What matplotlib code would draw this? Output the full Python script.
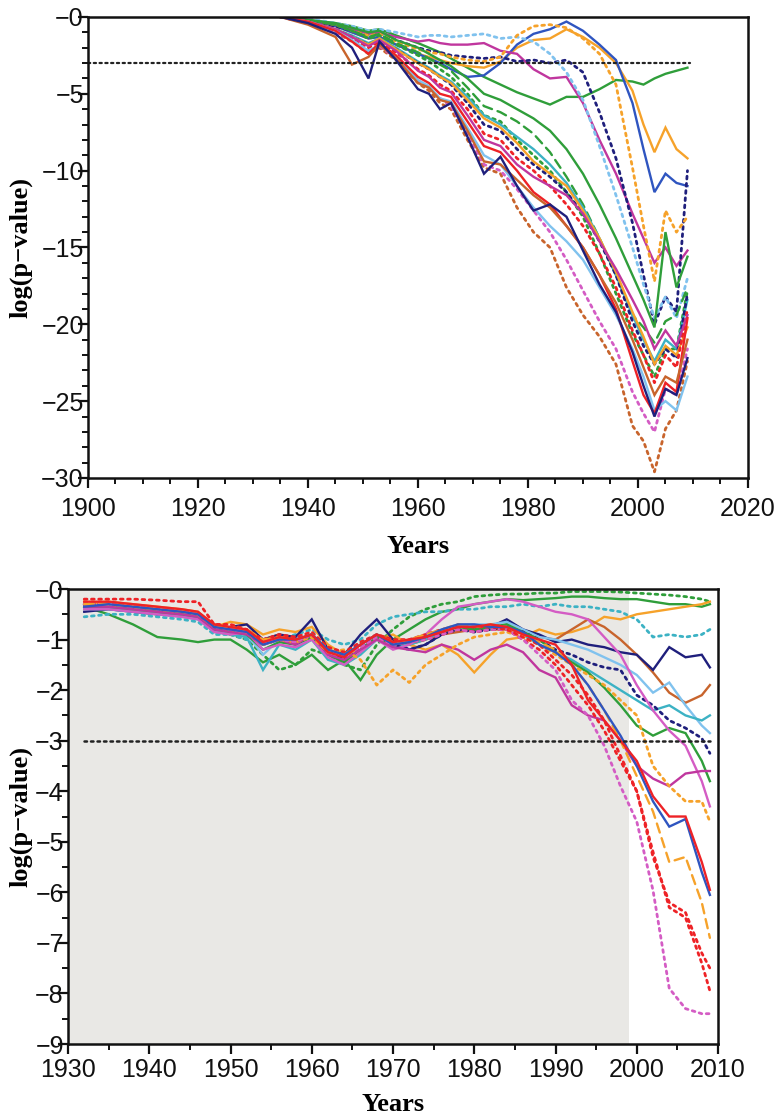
import matplotlib
matplotlib.use("Agg")
import matplotlib.pyplot as plt
from matplotlib.ticker import MultipleLocator, FixedLocator, FixedFormatter
from matplotlib.font_manager import FontProperties

# ---------------- data: top panel ----------------
years_top = [1935, 1940, 1945, 1948, 1951, 1953, 1956, 1960, 1962, 1964, 1966, 1969, 1972,
             1975, 1978, 1981, 1984, 1987, 1990, 1993, 1996, 1999, 2001, 2003, 2005, 2007, 2009]

t_navy = [0, -0.4, -1.1, -2.0, -4.0, -1.6, -2.8, -4.7, -5.0, -6.0, -5.6, -7.8, -10.2, -9.1, -11.0, -12.6, -12.2, -13.0, -15.2, -17.4, -19.2, -21.8, -24.0, -26.0, -24.2, -24.6, -22.2]
t_sienna = [0, -0.5, -1.3, -3.1, -2.6, -1.8, -2.7, -4.3, -4.6, -5.4, -5.6, -7.4, -9.4, -9.6, -10.6, -11.6, -12.4, -13.6, -15.0, -16.8, -18.6, -21.0, -22.8, -24.6, -23.4, -23.8, -21.0]
t_red = [0, -0.3, -0.9, -1.6, -2.4, -1.7, -2.5, -3.9, -4.3, -5.0, -5.2, -6.8, -8.4, -8.8, -10.0, -11.4, -12.2, -13.6, -15.0, -16.8, -19.0, -22.4, -24.6, -25.8, -23.8, -24.4, -19.6]
t_lblue = [0, -0.3, -0.9, -1.5, -2.2, -1.8, -2.6, -4.1, -4.5, -5.3, -5.5, -7.2, -9.0, -9.6, -11.0, -12.4, -13.6, -14.6, -15.8, -17.6, -19.4, -21.6, -23.4, -25.6, -25.0, -25.6, -23.4]
t_orange_dot = [0, -0.4, -1.0, -1.6, -2.4, -2.0, -2.8, -4.3, -4.8, -5.6, -6.0, -8.0, -9.8, -10.2, -12.4, -14.0, -15.0, -17.6, -19.4, -20.8, -22.6, -26.6, -27.6, -29.6, -26.8, -25.6, -22.4]
t_mag_dot = [0, -0.4, -1.0, -1.5, -2.2, -1.9, -2.7, -4.2, -4.6, -5.3, -5.8, -7.6, -9.6, -10.0, -11.2, -12.6, -14.0, -15.8, -17.8, -19.8, -21.6, -24.4, -25.8, -27.0, -24.2, -24.6, -21.6]
t_mag_mid = [0, -0.3, -0.8, -1.3, -1.9, -1.5, -2.2, -3.5, -3.9, -4.6, -4.9, -6.4, -8.0, -8.4, -9.6, -10.4, -11.0, -11.6, -12.8, -14.6, -16.4, -18.4, -19.8, -21.6, -20.4, -21.4, -19.4]
t_red_dot = [0, -0.3, -0.9, -1.4, -2.0, -1.6, -2.3, -3.4, -3.8, -4.4, -4.8, -6.0, -7.6, -8.0, -9.2, -10.0, -11.0, -12.2, -13.6, -15.4, -17.6, -20.4, -22.0, -23.8, -22.0, -22.8, -19.0]
t_orange_mid = [0, -0.3, -0.8, -1.3, -1.8, -1.4, -2.1, -3.0, -3.4, -3.9, -4.3, -5.4, -6.6, -7.2, -8.2, -9.4, -10.2, -11.0, -12.6, -14.4, -16.6, -19.2, -20.8, -22.6, -21.4, -22.0, -20.2]
t_green_dot = [0, -0.2, -0.5, -0.9, -1.4, -1.2, -1.8, -2.5, -2.9, -3.4, -3.9, -5.0, -6.4, -6.8, -8.0, -9.0, -10.0, -11.4, -13.0, -15.4, -18.0, -20.6, -22.0, -23.4, -21.6, -21.6, -17.8]
t_green_dash = [0, -0.2, -0.5, -0.9, -1.3, -1.1, -1.7, -2.3, -2.7, -3.1, -3.5, -4.6, -5.8, -6.2, -6.8, -7.6, -8.8, -10.4, -12.2, -14.4, -16.8, -19.4, -20.2, -21.2, -19.8, -19.4, -17.6]
t_green_mid = [0, -0.2, -0.4, -0.7, -1.0, -0.9, -1.5, -2.0, -2.4, -2.8, -3.2, -4.0, -5.0, -5.4, -6.0, -6.6, -7.4, -8.6, -10.2, -12.2, -14.4, -16.8, -18.4, -20.2, -14.0, -17.6, -15.6]
t_green_up = [0, -0.2, -0.4, -0.6, -0.9, -0.8, -1.2, -1.7, -2.0, -2.3, -2.7, -3.3, -3.9, -4.4, -4.9, -5.3, -5.7, -5.2, -5.2, -4.7, -4.1, -4.2, -4.4, -4.0, -3.7, -3.5, -3.3]
t_blue = [0, -0.2, -0.6, -1.0, -1.4, -1.3, -1.8, -2.4, -2.7, -3.0, -3.4, -3.9, -3.8, -3.0, -1.8, -1.1, -0.8, -0.3, -0.9, -1.8, -2.8, -5.6, -8.6, -11.4, -10.2, -10.8, -11.0]
t_orange_up = [0, -0.2, -0.6, -1.0, -1.4, -1.3, -1.8, -2.4, -2.6, -2.8, -3.0, -3.2, -3.3, -2.9, -2.0, -1.5, -1.4, -0.8, -1.3, -2.0, -3.0, -4.8, -7.0, -8.8, -7.2, -8.6, -9.2]
t_mag_up = [0, -0.2, -0.5, -0.8, -1.1, -1.0, -1.3, -1.6, -1.5, -1.7, -1.8, -1.8, -1.7, -2.2, -2.4, -3.4, -4.0, -3.9, -5.6, -8.0, -10.2, -12.8, -14.4, -16.0, -15.0, -16.2, -15.2]
t_navy_dot_up = [0, -0.2, -0.6, -0.9, -1.2, -1.1, -1.5, -2.0, -2.2, -2.3, -2.5, -2.6, -2.7, -2.6, -2.9, -2.8, -3.0, -2.8, -3.6, -6.2, -9.2, -13.4, -16.8, -20.0, -18.2, -19.2, -10.0]
t_lblue_dot_up = [0, -0.1, -0.4, -0.6, -0.9, -0.8, -1.0, -1.3, -1.2, -1.2, -1.3, -1.2, -1.1, -1.4, -1.3, -1.6, -2.4, -3.6, -5.4, -8.4, -11.6, -15.0, -17.4, -19.6, -18.2, -19.6, -17.0]
t_orange_dot_up = [0, -0.2, -0.5, -0.9, -1.2, -1.1, -1.6, -2.1, -2.3, -2.4, -2.6, -2.8, -2.9, -2.6, -1.2, -0.6, -0.5, -0.7, -1.4, -2.4, -4.4, -9.8, -13.6, -17.2, -12.6, -14.0, -13.0]
t_teal = [0, -0.3, -0.8, -1.2, -1.7, -1.4, -2.0, -2.9, -3.3, -3.8, -4.2, -5.2, -6.4, -7.0, -7.8, -8.6, -9.6, -10.8, -12.4, -14.4, -16.8, -19.4, -21.0, -22.4, -21.0, -21.6, -18.4]
t_navy_dot_mid = [0, -0.3, -0.8, -1.3, -1.8, -1.5, -2.1, -3.0, -3.4, -3.9, -4.4, -5.6, -7.0, -7.4, -8.6, -9.6, -10.4, -11.4, -12.8, -14.6, -16.8, -19.8, -21.4, -22.6, -21.6, -22.2, -18.0]

top_yticks = [0, -5, -10, -15, -20, -25, -30]
top_yticklabels = ["\u22120", "\u22125", "\u221210", "\u221215", "\u221220", "\u221225", "\u221230"]
top_xticks = [1900, 1920, 1940, 1960, 1980, 2000, 2020]

# ---------------- data: bottom panel ----------------
years_bot = [1932, 1935, 1938, 1941, 1944, 1946, 1948, 1950, 1952, 1954, 1956, 1958, 1960, 1962,
             1964, 1966, 1968, 1970, 1972, 1974, 1976, 1978, 1980, 1982, 1984, 1986, 1988, 1990,
             1992, 1994, 1996, 1998, 2000, 2002, 2004, 2006, 2008, 2009]

b_navy = [-0.45, -0.4, -0.45, -0.5, -0.5, -0.55, -0.8, -0.75, -0.7, -1.0, -0.9, -0.95, -0.6, -1.2, -1.3, -0.9, -0.6, -1.0, -1.2, -1.1, -0.9, -0.7, -0.8, -0.75, -0.6, -0.8, -0.9, -1.05, -1.0, -1.1, -1.15, -1.25, -1.3, -1.6, -1.15, -1.35, -1.3, -1.55]
b_green_up = [-0.35, -0.5, -0.7, -0.95, -1.0, -1.05, -1.0, -1.0, -1.2, -1.45, -1.3, -1.5, -1.3, -1.6, -1.4, -1.8, -1.3, -1.0, -0.8, -0.6, -0.45, -0.4, -0.3, -0.25, -0.2, -0.22, -0.2, -0.18, -0.15, -0.15, -0.18, -0.2, -0.2, -0.25, -0.3, -0.3, -0.35, -0.3]
b_green_dot_up = [-0.3, -0.35, -0.4, -0.45, -0.5, -0.55, -0.8, -0.9, -1.0, -1.3, -1.6, -1.5, -1.2, -1.3, -1.5, -1.6, -1.1, -0.8, -0.55, -0.4, -0.3, -0.25, -0.15, -0.12, -0.1, -0.1, -0.08, -0.08, -0.05, -0.05, -0.05, -0.06, -0.08, -0.1, -0.12, -0.15, -0.2, -0.25]
b_teal_dot = [-0.55, -0.5, -0.5, -0.55, -0.6, -0.65, -0.9, -0.9, -1.0, -1.1, -1.0, -0.9, -0.8, -1.0, -1.1, -1.0, -0.7, -0.55, -0.5, -0.45, -0.45, -0.4, -0.4, -0.35, -0.35, -0.3, -0.35, -0.3, -0.35, -0.35, -0.4, -0.45, -0.6, -0.95, -0.9, -0.95, -0.9, -0.8]
b_orange = [-0.3, -0.25, -0.3, -0.35, -0.4, -0.45, -0.75, -0.65, -0.7, -0.9, -0.8, -0.85, -0.75, -1.1, -1.3, -1.2, -1.0, -0.9, -1.1, -1.2, -1.1, -1.3, -1.65, -1.3, -1.0, -0.95, -0.8, -0.9, -0.85, -0.75, -0.55, -0.6, -0.5, -0.45, -0.4, -0.35, -0.3, -0.25]
b_sienna = [-0.35, -0.35, -0.4, -0.45, -0.5, -0.5, -0.7, -0.8, -0.8, -1.0, -0.9, -1.0, -0.9, -1.2, -1.3, -1.1, -0.9, -1.0, -1.1, -1.0, -0.9, -0.85, -0.8, -0.8, -0.8, -0.85, -0.95, -1.0, -0.8, -0.6, -0.75, -1.0, -1.3, -1.65, -2.05, -2.25, -2.1, -1.9]
b_lblue = [-0.3, -0.35, -0.4, -0.45, -0.5, -0.55, -0.85, -0.85, -0.9, -1.3, -1.0, -1.1, -1.0, -1.3, -1.4, -1.2, -0.9, -1.1, -1.0, -0.9, -0.8, -0.7, -0.7, -0.7, -0.65, -0.8, -0.95, -1.0, -1.1, -1.2, -1.35, -1.5, -1.7, -2.05, -1.85, -2.3, -2.7, -2.85]
b_teal = [-0.4, -0.4, -0.45, -0.5, -0.55, -0.6, -0.85, -0.9, -0.95, -1.6, -1.1, -1.2, -1.0, -1.4, -1.5, -1.3, -1.0, -1.15, -1.1, -1.0, -0.85, -0.75, -0.75, -0.8, -0.7, -0.9, -1.1, -1.25, -1.4, -1.6, -1.8, -2.0, -2.2, -2.4, -2.3, -2.5, -2.6, -2.5]
b_navy_dot = [-0.3, -0.3, -0.35, -0.4, -0.45, -0.5, -0.75, -0.8, -0.85, -1.1, -1.0, -1.05, -0.9, -1.2, -1.4, -1.2, -0.9, -1.1, -1.2, -1.1, -0.9, -0.8, -0.85, -0.8, -0.75, -0.85, -1.0, -1.2, -1.3, -1.45, -1.55, -1.6, -2.1, -2.3, -2.6, -2.75, -2.95, -3.25]
b_green = [-0.35, -0.35, -0.4, -0.45, -0.5, -0.55, -0.8, -0.85, -0.9, -1.2, -1.05, -1.1, -0.95, -1.3, -1.45, -1.2, -0.95, -1.1, -1.05, -0.95, -0.85, -0.75, -0.8, -0.75, -0.7, -0.85, -1.0, -1.25, -1.45, -1.65, -1.95, -2.3, -2.7, -2.9, -2.75, -2.85, -3.4, -3.8]
b_mag_up = [-0.4, -0.4, -0.45, -0.5, -0.55, -0.6, -0.85, -0.9, -0.85, -1.2, -1.1, -1.15, -1.0, -1.35, -1.5, -1.25, -1.0, -1.2, -1.1, -0.9, -0.6, -0.35, -0.3, -0.25, -0.2, -0.25, -0.35, -0.45, -0.5, -0.6, -0.95, -1.3, -1.9, -2.4, -2.8, -3.1, -3.8, -4.3]
b_mag_low = [-0.35, -0.35, -0.4, -0.45, -0.5, -0.55, -0.8, -0.85, -0.9, -1.1, -1.0, -1.1, -0.9, -1.3, -1.4, -1.2, -1.0, -1.15, -1.2, -1.25, -1.1, -1.2, -1.4, -1.2, -1.1, -1.25, -1.6, -1.75, -2.3, -2.5, -2.6, -3.0, -3.5, -3.75, -3.9, -3.65, -3.6, -3.6]
b_red = [-0.25, -0.25, -0.3, -0.35, -0.4, -0.45, -0.7, -0.75, -0.8, -1.05, -0.95, -1.0, -0.9, -1.25, -1.35, -1.1, -0.9, -1.05, -1.0, -0.95, -0.85, -0.75, -0.75, -0.7, -0.75, -0.9, -1.0, -1.1, -1.5, -2.2, -2.6, -3.0, -3.4, -4.1, -4.5, -4.5, -5.4, -5.95]
b_blue = [-0.35, -0.3, -0.35, -0.4, -0.45, -0.5, -0.75, -0.8, -0.85, -1.1, -1.0, -1.0, -0.9, -1.2, -1.3, -1.1, -0.9, -1.1, -1.05, -0.95, -0.8, -0.7, -0.7, -0.75, -0.75, -0.85, -1.1, -1.25, -1.5, -1.9, -2.4, -2.9, -3.5, -4.2, -4.7, -4.55, -5.6, -6.05]
b_orange_dash = [-0.3, -0.3, -0.35, -0.4, -0.45, -0.5, -0.75, -0.75, -0.8, -1.0, -0.95, -1.0, -0.9, -1.2, -1.3, -1.1, -0.9, -1.05, -1.0, -0.9, -0.8, -0.7, -0.75, -0.7, -0.75, -0.9, -1.05, -1.2, -1.5, -1.9, -2.4, -3.0, -3.7, -4.4, -5.4, -5.3, -6.2, -6.9]
b_red_dot = [-0.2, -0.2, -0.2, -0.22, -0.25, -0.25, -0.7, -0.7, -0.8, -1.0, -0.9, -0.95, -0.85, -1.15, -1.25, -1.05, -0.9, -1.0, -1.0, -0.9, -0.8, -0.75, -0.75, -0.75, -0.8, -0.95, -1.1, -1.4, -1.7, -2.1, -2.6, -3.3, -4.0, -5.2, -6.3, -6.5, -7.4, -7.95]
b_mag_dot_low = [-0.3, -0.3, -0.35, -0.4, -0.45, -0.5, -0.75, -0.8, -0.85, -1.05, -1.0, -1.05, -0.9, -1.2, -1.3, -1.15, -0.95, -1.1, -1.05, -1.0, -0.9, -0.8, -0.85, -0.8, -0.8, -1.0, -1.3, -1.6, -2.2, -2.5, -3.1, -3.9, -4.6, -5.96, -7.9, -8.3, -8.4, -8.4]
b_mag_dot_up = [-0.3, -0.3, -0.35, -0.4, -0.45, -0.5, -0.75, -0.8, -0.85, -1.05, -1.0, -1.05, -0.9, -1.2, -1.3, -1.15, -0.95, -1.1, -1.05, -1.0, -0.9, -0.8, -0.85, -0.8, -0.8, -1.0, -1.2, -1.5, -1.9, -2.3, -2.8, -3.4, -4.0, -5.3, -6.2, -6.4, -7.2, -7.5]
b_orange_dot = [-0.25, -0.3, -0.35, -0.4, -0.45, -0.5, -0.75, -0.8, -0.85, -1.1, -1.0, -1.05, -0.95, -1.25, -1.2, -1.4, -1.9, -1.6, -1.85, -1.5, -1.3, -1.1, -0.95, -0.9, -0.85, -0.95, -1.1, -1.3, -1.5, -1.7, -1.9, -2.2, -2.5, -3.5, -3.9, -4.2, -4.2, -4.6]

bot_yticks = [0, -1, -2, -3, -4, -5, -6, -7, -8, -9]
bot_yticklabels = ["\u22120", "\u22121", "\u22122", "\u22123", "\u22124", "\u22125", "\u22126", "\u22127", "\u22128", "\u22129"]
bot_xticks = [1930, 1940, 1950, 1960, 1970, 1980, 1990, 2000, 2010]

threshold = -3
shade_end = 1999

# ---------------- styles ----------------
NAVY = '#1f1f7c'
BLUE = '#2f55c0'
LBLUE = '#80c2ee'
TEAL = '#3cb2c4'
GREEN = '#2f9e3a'
ORANGE = '#f6a22a'
SIENNA = '#c8642c'
RED = '#ee2226'
MAGENTA = '#c0369e'
PINK = '#d45cc4'

DOT = (0, (1, 1.6))
DASH = (0, (4, 2.5))

top_series = [
    (t_green_up, GREEN, '-'), (t_orange_up, ORANGE, '-'), (t_blue, BLUE, '-'),
    (t_mag_up, MAGENTA, '-'), (t_navy_dot_up, NAVY, DOT), (t_lblue_dot_up, LBLUE, DOT),
    (t_orange_dot_up, ORANGE, DOT), (t_green_mid, GREEN, '-'), (t_green_dash, GREEN, DASH),
    (t_green_dot, GREEN, DOT), (t_teal, TEAL, '-'), (t_navy_dot_mid, NAVY, DOT),
    (t_orange_mid, ORANGE, '-'), (t_red_dot, RED, DOT), (t_mag_mid, MAGENTA, '-'),
    (t_orange_dot, SIENNA, DOT), (t_mag_dot, PINK, DOT), (t_lblue, LBLUE, '-'),
    (t_red, RED, '-'), (t_sienna, SIENNA, '-'), (t_navy, NAVY, '-'),
]

bot_series = [
    (b_green_dot_up, GREEN, DOT), (b_green_up, GREEN, '-'), (b_teal_dot, TEAL, DOT),
    (b_orange, ORANGE, '-'), (b_sienna, SIENNA, '-'), (b_navy, NAVY, '-'),
    (b_lblue, LBLUE, '-'), (b_teal, TEAL, '-'), (b_navy_dot, NAVY, DOT),
    (b_green, GREEN, '-'), (b_mag_up, PINK, '-'), (b_mag_low, MAGENTA, '-'),
    (b_orange_dot, ORANGE, DOT), (b_mag_dot_up, RED, DOT), (b_mag_dot_low, PINK, DOT),
    (b_red_dot, RED, DOT), (b_orange_dash, ORANGE, DASH), (b_blue, BLUE, '-'),
    (b_red, RED, '-'),
]

TICKFP = FontProperties(family='Liberation Sans', size=18)
LABELFONT = dict(family='Liberation Serif', size=19, weight='bold')

fig = plt.figure(figsize=(7.78, 11.16), dpi=100)
ax1 = fig.add_axes([0.1131, 0.5717, 0.8483, 0.4131])
ax2 = fig.add_axes([0.0874, 0.0645, 0.8355, 0.4077])


def style_axes(ax, xpad):
    for s in ax.spines.values():
        s.set_linewidth(1.8)
        s.set_color('#111111')
    ax.tick_params(which='both', direction='out', top=False, right=False, colors='#111111')
    ax.tick_params(which='major', length=7, width=1.6)
    ax.tick_params(which='minor', length=4, width=1.4)
    ax.tick_params(axis='y', which='major', pad=-4)
    ax.tick_params(axis='x', which='major', pad=xpad)


def draw(ax, years, series):
    for vals, col, ls in series:
        lw = 2.0 if ls == DOT else 1.7
        ax.plot(years, vals, color=col, linestyle=ls, linewidth=lw,
                dash_capstyle='round', solid_joinstyle='miter')


# top panel
draw(ax1, years_top, top_series)
ax1.plot([1900, 2009.5], [threshold, threshold], color='#222222', linestyle=(0, (1, 1.6)),
         linewidth=1.6, dash_capstyle='round')
ax1.set_xlim(1900, 2020)
ax1.set_ylim(-30, 0)
ax1.yaxis.set_major_locator(FixedLocator(top_yticks))
ax1.yaxis.set_major_formatter(FixedFormatter(top_yticklabels))
ax1.yaxis.set_minor_locator(MultipleLocator(1))
ax1.xaxis.set_major_locator(FixedLocator(top_xticks))
ax1.xaxis.set_minor_locator(MultipleLocator(5))
style_axes(ax1, 7)
for lab in ax1.get_xticklabels() + ax1.get_yticklabels():
    lab.set_fontproperties(TICKFP)
ax1.set_xlabel('Years', fontdict=LABELFONT, labelpad=10)
ax1.set_ylabel('log(p\u2212value)', fontdict=LABELFONT, labelpad=6)

# bottom panel
ax2.axvspan(1930, shade_end, color='#e9e8e5', zorder=0, lw=0)
draw(ax2, years_bot, bot_series)
ax2.plot([1932, 2009], [threshold, threshold], color='#222222', linestyle=(0, (1, 1.6)),
         linewidth=1.8, dash_capstyle='round')
ax2.set_xlim(1930, 2010)
ax2.set_ylim(-9, 0)
ax2.yaxis.set_major_locator(FixedLocator(bot_yticks))
ax2.yaxis.set_major_formatter(FixedFormatter(bot_yticklabels))
ax2.yaxis.set_minor_locator(MultipleLocator(0.5))
ax2.xaxis.set_major_locator(FixedLocator(bot_xticks))
ax2.xaxis.set_minor_locator(MultipleLocator(5))
style_axes(ax2, 3)
for lab in ax2.get_xticklabels() + ax2.get_yticklabels():
    lab.set_fontproperties(TICKFP)
ax2.set_xlabel('Years', fontdict=LABELFONT, labelpad=8)
ax2.set_ylabel('log(p\u2212value)', fontdict=LABELFONT, labelpad=2)

fig.savefig('out.png', dpi=100)
